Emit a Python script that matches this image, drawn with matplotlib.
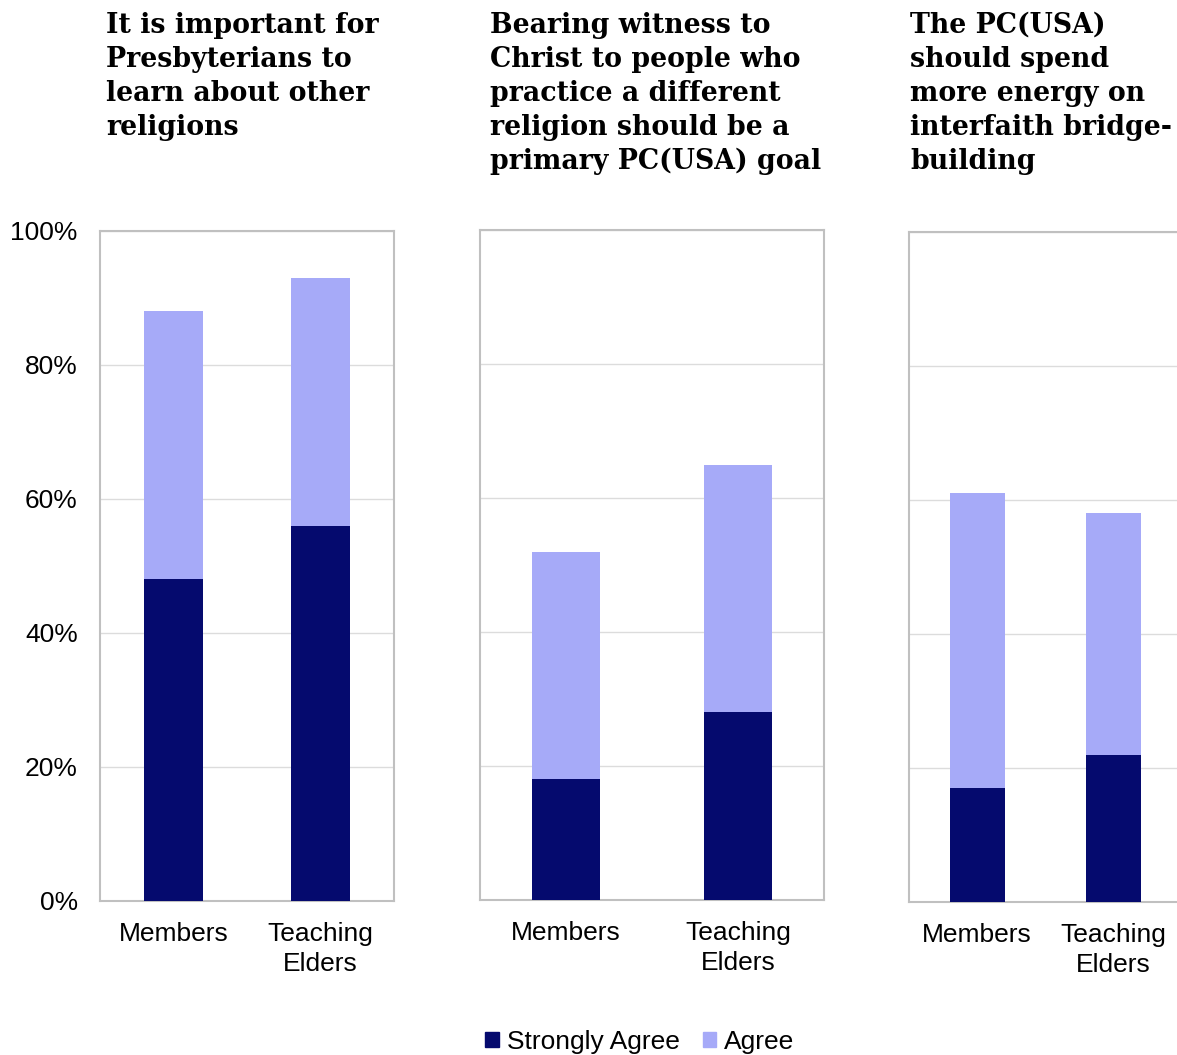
import matplotlib
matplotlib.use("Agg")
import matplotlib.pyplot as plt
from matplotlib.patches import Patch
from matplotlib.ticker import PercentFormatter

# Survey results (percent of respondents)
groups = ["Members", "Teaching\nElders"]
titles = [
    "It is important for\nPresbyterians to\nlearn about other\nreligions",
    "Bearing witness to\nChrist to people who\npractice a different\nreligion should be a\nprimary PC(USA) goal",
    "The PC(USA)\nshould spend\nmore energy on\ninterfaith bridge-\nbuilding",
]
strongly_agree = [[48, 56], [18, 28], [17, 22]]
agree = [[40, 37], [34, 37], [44, 36]]

DARK = "#050a6e"
LIGHT = "#a6aaf8"
FRAME = "#c0c0c0"
GRID = "#dcdcdc"

W, H = 1177, 1055
fig = plt.figure(figsize=(W / 100, H / 100), dpi=100)
plt.rcParams["font.family"] = ["Liberation Sans", "DejaVu Sans"]

# panel boxes in pixels: left, bottom(from top), width
boxes = [(100, 901, 294), (480, 900, 344), (909, 902, 273)]
title_x = [106, 490, 910]
ph = 670

for i, (l, b, w) in enumerate(boxes):
    ax = fig.add_axes([l / W, (H - b) / H, w / W, ph / H])
    x = range(len(groups))
    ax.bar(x, strongly_agree[i], width=0.4, color=DARK, zorder=3)
    ax.bar(x, agree[i], width=0.4, bottom=strongly_agree[i], color=LIGHT, zorder=3)
    ax.set_xlim(-0.5, 1.5)
    ax.set_ylim(0, 100)
    ax.set_yticks([0, 20, 40, 60, 80, 100])
    ax.yaxis.set_major_formatter(PercentFormatter(decimals=0))
    ax.grid(axis="y", color=GRID, linewidth=1, zorder=0)
    ax.set_xticks(list(x))
    ax.set_xticklabels(groups, fontsize=19, linespacing=1.35)
    ax.tick_params(length=0, pad=15)
    ax.tick_params(axis="y", labelsize=19, pad=16)
    if i > 0:
        ax.tick_params(axis="y", labelleft=False)
    for s in ax.spines.values():
        s.set_color(FRAME)
        s.set_linewidth(1.5)
    fig.text(title_x[i] / W, 1 - 12 / H, titles[i], ha="left", va="top",
             fontsize=19.3, fontweight="bold", family="DejaVu Serif",
             linespacing=1.33)

handles = [Patch(color=DARK, label="Strongly Agree"), Patch(color=LIGHT, label="Agree")]
fig.legend(handles=handles, loc="center", bbox_to_anchor=(640 / W, 1 - 1042 / H),
           ncol=2, frameon=False, fontsize=19, handlelength=0.5, handleheight=0.5,
           handletextpad=0.3, columnspacing=0.9)

fig.savefig("out.png", dpi=100)
